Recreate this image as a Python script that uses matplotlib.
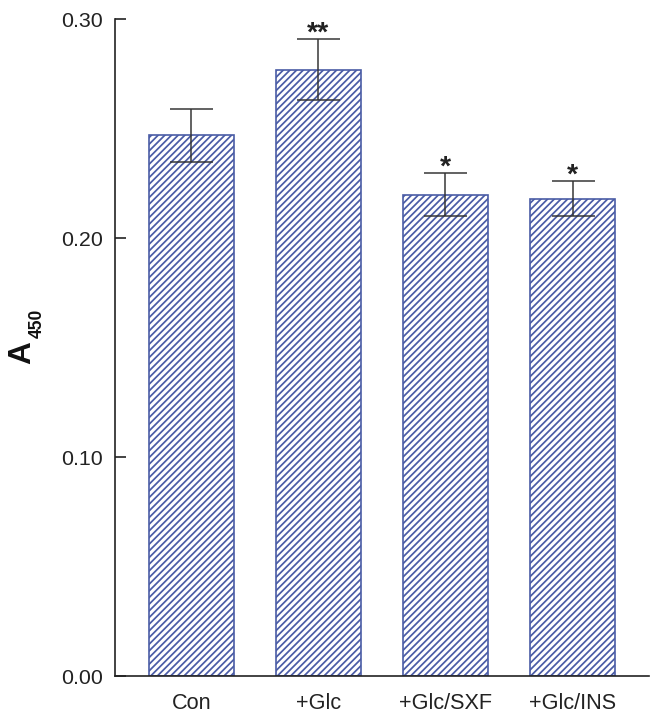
import matplotlib
matplotlib.use('Agg')
import matplotlib.pyplot as plt
import numpy as np

# data
groups = ['Con', '+Glc', '+Glc/SXF', '+Glc/INS']
means = [0.247, 0.277, 0.220, 0.218]
errs = [0.012, 0.014, 0.010, 0.008]
marks = ['', '**', '*', '*']
yticks = [0.00, 0.10, 0.20, 0.30]

blue = '#4a5ca6'

plt.rcParams['font.family'] = ['Liberation Sans', 'DejaVu Sans']
plt.rcParams['hatch.linewidth'] = 1.05
plt.rcParams['hatch.color'] = blue

fig = plt.figure(figsize=(5.5, 721 / 120), dpi=120)
ax = fig.add_axes([0.1742, 0.0624, 0.983 - 0.1742, 0.973 - 0.0624])

x = np.arange(len(groups))
ax.bar(x, means, width=0.67, color='white', edgecolor=blue, hatch='//////',
       linewidth=1.0, zorder=2)
ax.errorbar(x, means, yerr=errs, fmt='none', ecolor='#333333',
            elinewidth=0.9, capsize=12.9, capthick=0.9, zorder=3)

# significance marks above the error bars
for xi, m, e, s in zip(x, means, errs, marks):
    if s:
        ax.text(xi, m + e - 0.0035, s, ha='center',
                va='bottom', fontsize=17, fontweight='bold', color='#222222')

ax.set_xlim(-0.6, 3.6)
ax.set_ylim(0, 0.30)
ax.set_yticks(yticks)
ax.set_yticklabels(['%.2f' % v for v in yticks])
ax.set_xticks(x)
ax.set_xticklabels(groups)

for side in ['top', 'right']:
    ax.spines[side].set_visible(False)
for side in ['left', 'bottom']:
    ax.spines[side].set_linewidth(1.0)
    ax.spines[side].set_color('#222222')

ax.tick_params(axis='y', direction='in', length=6.6, width=1.0,
               labelsize=12.8, pad=7, colors='#222222')
ax.tick_params(axis='x', length=0, labelsize=13, pad=10, colors='#222222')

# y label: bold A with subscript 450
fig.text(22 / 660, 1 - 353 / 721, 'A', rotation=90, ha='center', va='center',
         fontsize=19, fontweight='bold', color='#111111')
fig.text(37 / 660, 1 - 323 / 721, '450', rotation=90, ha='center', va='center',
         fontsize=10.5, fontweight='bold', color='#111111')

fig.savefig('out.png', dpi=120)
